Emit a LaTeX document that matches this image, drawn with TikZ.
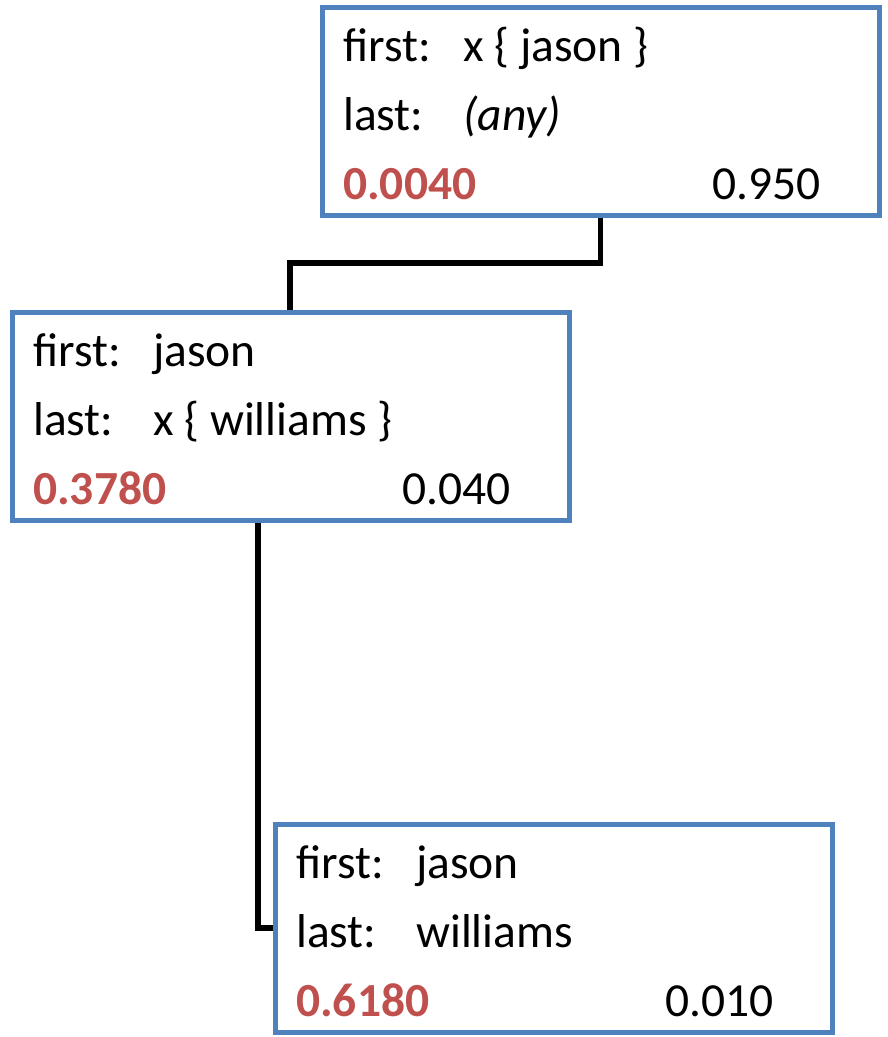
\documentclass[tikz,border=0pt]{standalone}
\usepackage{fontspec}
\setmainfont{Carlito}
\usetikzlibrary{calc}
\usetikzlibrary{backgrounds}
\definecolor{boxblue}{HTML}{4F81BD}
\definecolor{scorered}{HTML}{C0504D}

\tikzset{
  hyp/.style={rectangle, draw=boxblue, line width=5pt, fill=white,
    minimum width=557pt, minimum height=208pt, inner sep=0pt, outer sep=0pt,
    anchor=north west},
  field/.style={anchor=base west, inner sep=0pt, font=\fontsize{47.5}{56}\selectfont},
  score/.style={field, text=scorered, font=\fontsize{47.5}{56}\selectfont\bfseries},
  prob/.style={field, anchor=base east},
  link/.style={black, line width=5.5pt},
}

% one hypothesis box: name, corner x, corner y, first, last, score, prob
\newcommand\hypbox[7]{%
  \node[hyp] (#1) at (#2,#3) {};
  \node[field] (#1-fk) at ($(#1.north west)+(21,54)$) {first:};
  \node[field] (#1-fv) at ($(#1-fk.base west)+(120,0)$) {#4};
  \node[field] (#1-lk) at ($(#1.north west)+(21,123)$) {last:};
  \node[field] (#1-lv) at ($(#1-lk.base west)+(120,0)$) {#5};
  \node[score] (#1-s) at ($(#1.north west)+(21,192)$) {#6};
  \node[prob] (#1-p) at ($(#1.north east)+(-58,192)$) {#7};
}

\begin{document}
\begin{tikzpicture}[x=1pt,y=-1pt]

\useasboundingbox (0,0) rectangle (888,1037);

\hypbox{top}{322}{7}{x \{ jason \}}{\textit{(any)}}{0.0040}{0.950}
\hypbox{mid}{12}{312}{jason}{x \{ williams \}}{0.3780}{0.040}
\hypbox{bot}{275}{824}{jason}{williams}{0.6180}{0.010}

\coordinate (mid-in) at ($(mid.north west)+(278,0)$);
\coordinate (mid-out) at ($(mid.south west)+(246,0)$);

\begin{scope}[on background layer]
\draw[link] (top.south) -- ++(0,48) -| (mid-in);
\draw[link] (mid-out) |- (bot.west);
\end{scope}

\end{tikzpicture}
\end{document}
